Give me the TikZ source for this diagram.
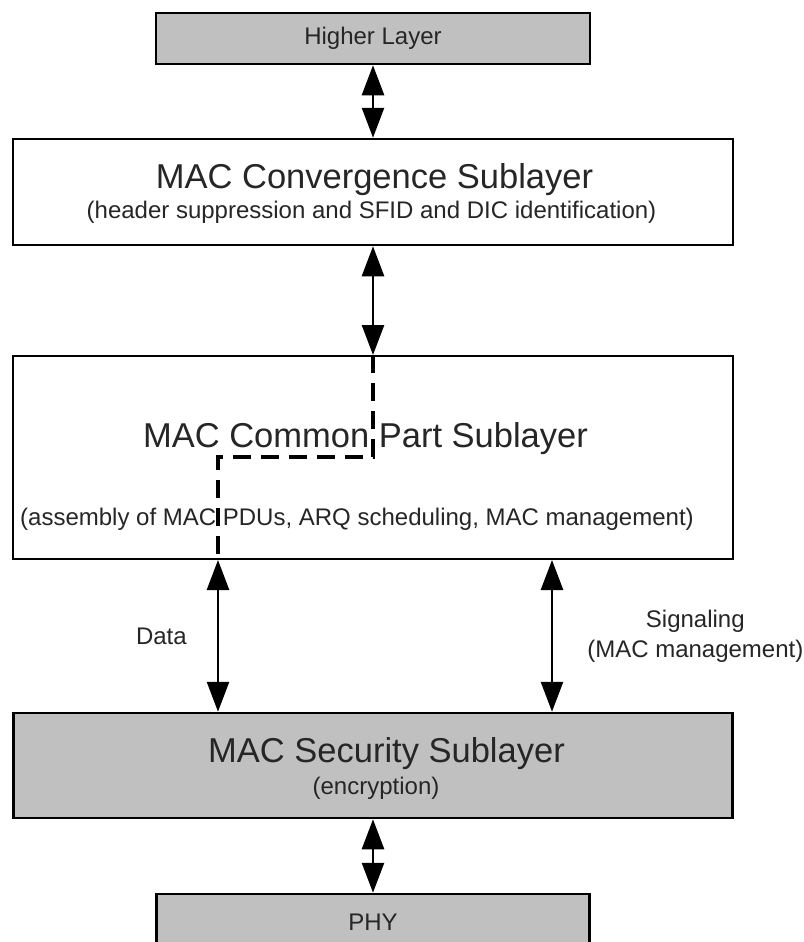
\documentclass[tikz,border=0pt]{standalone}
\usepackage{fontspec}
\setmainfont{Liberation Sans}
\usepackage{tikz}
\usetikzlibrary{positioning,arrows.meta}
\definecolor{layergray}{RGB}{192,192,192}
\definecolor{layertext}{RGB}{38,38,38}
\newcommand\layerbig{\fontsize{34.5bp}{40bp}\selectfont}
\newcommand\layersmall{\fontsize{24bp}{30bp}\selectfont}

\begin{document}
\begin{tikzpicture}[x=1bp, y=-1bp, align=center, text=layertext,
    layer/.style={draw=black, line width=2.5bp, inner sep=0pt},
    shaded/.style={layer, fill=layergray},
    link/.style={line width=2.6bp, {Triangle[length=30bp, width=22bp]}-{Triangle[length=30bp, width=22bp]}},
    dataflow/.style={line width=4bp, dash pattern=on 18bp off 10bp}]
    \useasboundingbox[fill=white] (0,0) rectangle (804,942);

    \node[shaded, minimum width=434bp, minimum height=51bp, font=\layersmall] (higher) at (373,38.5) {Higher Layer};

    \node[layer, minimum width=720bp, minimum height=106bp] (convergence) at (373,192) {};
    \node[anchor=base, font=\layerbig] (convergence_title) at (374.5,188) {MAC Convergence Sublayer};
    \node[anchor=base, font=\layersmall] (convergence_note) at (371.5,218) {(header suppression and SFID and DIC identification)};

    \node[layer, line width=2bp, minimum width=720bp, minimum height=203bp] (common) at (373,457.5) {};
    \node[anchor=base, font=\layerbig] (common_title) at (365.5,447) {MAC Common Part Sublayer};
    \node[anchor=base, font=\layersmall] (common_note) at (357,525) {(assembly of MAC PDUs, ARQ scheduling, MAC management)};

    \node[shaded, minimum width=719bp, minimum height=105bp] (security) at (373,765.5) {};
    \node[anchor=base, font=\layerbig] (security_title) at (386.5,762) {MAC Security Sublayer};
    \node[anchor=base, font=\layersmall] (security_note) at (376,794) {(encryption)};

    \node[shaded, minimum width=433bp, minimum height=56bp, font=\layersmall] (phy) at (373,922) {PHY};

    \coordinate (datax) at (218,0);
    \coordinate (signalx) at (552,0);

    \draw[dataflow] (common.north) -- ++(0,102) -| (common.south -| datax);

    \draw[link] (higher.south) -- (convergence.north);
    \draw[link] (convergence.south) -- (common.north);
    \draw[link] (common.south -| datax) -- node[midway, left=30bp, inner sep=0pt, font=\layersmall] (data_label) {Data} (security.north -| datax);
    \draw[link] (common.south -| signalx) -- node[midway, right=34bp, inner sep=0pt, font=\layersmall] (signal_label) {Signaling\\(MAC management)} (security.north -| signalx);
    \draw[link] (security.south) -- (phy.north);
\end{tikzpicture}
\end{document}
